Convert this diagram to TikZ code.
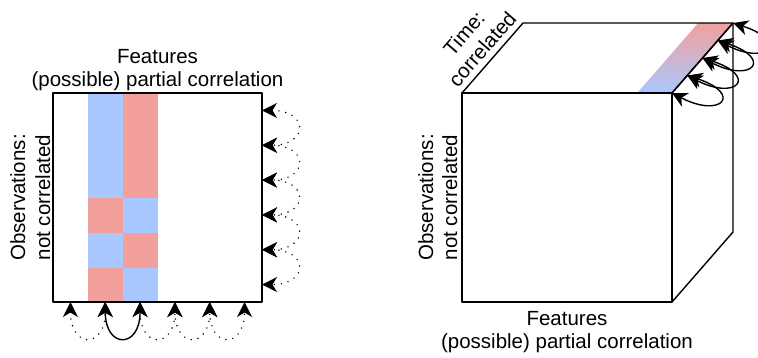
\documentclass[tikz,border=0pt]{standalone}
\usepackage{fontspec}
\setmainfont{Liberation Sans}
\usetikzlibrary{arrows.meta,calc}
\definecolor{cblue}{RGB}{168,200,255}
\definecolor{cred}{RGB}{243,160,156}
\begin{document}
\begin{tikzpicture}[x=1pt,y=-1pt,
  lbl/.style={font=\fontsize{20.5}{24}\selectfont, inner sep=0pt, anchor=base},
  frame/.style={draw=black, line width=1.4pt, line join=round},
  bothtips/.style={arrows={Stealth[length=15pt,width=15pt,inset=4.5pt]-Stealth[length=15pt,width=15pt,inset=4.5pt]}},
  dotarc/.style={bothtips, line width=1.6pt, line cap=round, dash pattern=on 0pt off 7pt},
  solarc/.style={bothtips, line width=1.4pt},
]
\useasboundingbox (0,0) rectangle (758,357);
\clip (0,0) rectangle (758,357);

% ---------- left matrix ----------
\fill[cblue] (88,93) rectangle (123,198);
\fill[cred]  (123,93) rectangle (158,198);
\fill[cred]  (88,198) rectangle (123,233);
\fill[cblue] (123,198) rectangle (158,233);
\fill[cblue] (88,233) rectangle (123,268);
\fill[cred]  (123,233) rectangle (158,268);
\fill[cred]  (88,268) rectangle (123,302);
\fill[cblue] (123,268) rectangle (158,302);
\node[frame, minimum width=209pt, minimum height=209pt, inner sep=0pt] (mat) at (157.5,197.5) {};

\foreach \k in {1,...,6} {
  \coordinate (b\k) at ({53+34.83*(\k-0.5)},302);
  \coordinate (r\k) at (262,{93+34.83*(\k-0.5)});
}
\foreach \a/\b in {1/2,3/4,4/5,5/6} {
  \draw[dotarc] (b\a) .. controls ($(b\a)+(0,47)$) and ($(b\b)+(0,47)$) .. (b\b);
}
\draw[solarc] (b2) .. controls ($(b2)+(0,47)$) and ($(b3)+(0,47)$) .. (b3);
\foreach \a/\b in {1/2,2/3,3/4,4/5,5/6} {
  \draw[dotarc] (r\a) .. controls ($(r\a)+(47,0)$) and ($(r\b)+(47,0)$) .. (r\b);
}

\node[lbl] (lf1) at (157.5,63) {Features};
\node[lbl] (lf2) at (157.5,86) {(possible) partial correlation};
\node[lbl, rotate=90] (lo1) at (25,197.5) {Observations:};
\node[lbl, rotate=90] (lo2) at (50,197.5) {not correlated};

% ---------- cube ----------
\coordinate (fA) at (462,93);
\coordinate (fB) at (672,93);
\coordinate (fC) at (672,302);
\coordinate (fD) at (462,302);
\coordinate (bA) at (523,23);
\coordinate (bB) at (733,23);
\coordinate (bC) at (733,232);
\fill[white] (fA) -- (bA) -- (bB) -- (fB) -- cycle;
\fill[white] (fB) -- (bB) -- (bC) -- (fC) -- cycle;
\shade[bottom color=cblue, top color=cred] (637.2,93) -- (fB) -- (bB) -- (698.2,23) -- cycle;
\draw[frame] (fA) -- (bA) -- (bB) -- (fB) -- cycle;
\draw[frame] (fB) -- (bB) -- (bC) -- (fC) -- cycle;
\node[frame, minimum width=210pt, minimum height=209pt, inner sep=0pt] (front) at (567,197.5) {};

\foreach \k in {0,...,4} {
  \coordinate (p\k) at ($(fB)!\k/4!(bB)$);
}
\foreach \a/\b in {0/1,1/2,2/3,3/4} {
  \draw[solarc] (p\a) .. controls ($(p\a)+(50,26)$) and ($(p\b)+(56,18)$) .. (p\b);
}

\node[lbl, rotate=90] (ro1) at (433,197.5) {Observations:};
\node[lbl, rotate=90] (ro2) at (457,197.5) {not correlated};
\node[lbl] (rf1) at (567,325) {Features};
\node[lbl] (rf2) at (567,348) {(possible) partial correlation};
\node[font=\fontsize{20.5}{24}\selectfont, rotate=49, align=center, anchor=south, inner sep=6pt] (time) at ($(fA)!0.5!(bA)$) {Time:\\correlated};
\end{tikzpicture}
\end{document}
